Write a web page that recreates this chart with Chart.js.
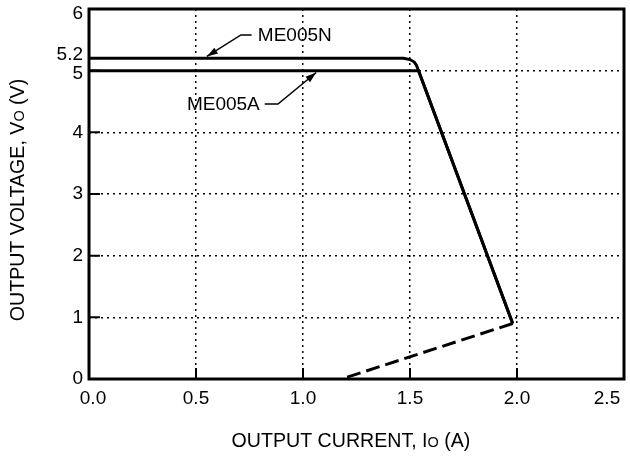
<!DOCTYPE html>
<html>
<head>
<meta charset="utf-8">
<script src="https://cdn.jsdelivr.net/npm/chart.js@4.4.1/dist/chart.umd.min.js"></script>
<style>
  body { margin: 0; background: #fff; }
</style>
</head>
<body>
<canvas id="chart" width="630" height="458"></canvas>
<script>
// Output voltage vs output current
const xTicks = [0, 0.5, 1.0, 1.5, 2.0, 2.5];
const yTicks = [0, 1, 2, 3, 4, 5, 5.2, 6];

const me005nCurrent = [0, 1.47, 1.50, 1.52, 1.53, 1.54, 1.98];
const me005nVoltage = [5.2, 5.2, 5.18, 5.14, 5.09, 5.0, 0.9];

const me005aCurrent = [0, 1.54, 1.98];
const me005aVoltage = [5.0, 5.0, 0.9];

// fold-back part (dashed)
const foldCurrent = [1.98, 1.18];
const foldVoltage = [0.9, 0];

const toPoints = (xs, ys) => xs.map((x, i) => ({ x: x, y: ys[i] }));

const FONT = 'Arial, "Liberation Sans", sans-serif';
const TICK_FONT = '19px ' + FONT;

// labels the axes place badly (crowded or past the edge) are drawn by hand
const xEdgeTicks = [0, 2.5];
const yCrowdTicks = [5, 5.2, 6];

// frame, inner ticks, axis titles and the two callouts
const decorations = {
  id: 'decorations',
  afterDraw(chart) {
    const ctx = chart.ctx;
    const area = chart.chartArea;
    const xs = chart.scales.x;
    const ys = chart.scales.y;
    ctx.save();

    // inner tick marks
    ctx.strokeStyle = '#000';
    ctx.lineWidth = 2;
    ctx.beginPath();
    xTicks.forEach(v => {
      const px = xs.getPixelForValue(v);
      ctx.moveTo(px, area.bottom);
      ctx.lineTo(px, area.bottom - 11);
    });
    [1, 2, 3, 4, 5].forEach(v => {
      const py = ys.getPixelForValue(v);
      ctx.moveTo(area.left, py);
      ctx.lineTo(area.left + 11, py);
    });
    ctx.stroke();

    // frame
    ctx.lineWidth = 3;
    ctx.strokeRect(area.left, area.top, area.right - area.left, area.bottom - area.top);

    // hand placed tick labels
    ctx.fillStyle = '#000';
    ctx.font = TICK_FONT;
    ctx.textBaseline = 'middle';
    ctx.textAlign = 'center';
    const xLabelY = area.bottom + 8 + 11.4;
    ctx.fillText(xEdgeTicks[0].toFixed(1), area.left + 4, xLabelY);
    ctx.fillText(xEdgeTicks[1].toFixed(1), area.right - 17, xLabelY);
    ctx.textAlign = 'right';
    const yNudge = [3, -4, 5];
    yCrowdTicks.forEach((v, i) => {
      ctx.fillText(String(v), area.left - 6, ys.getPixelForValue(v) + yNudge[i]);
    });

    // axis titles with the small "O" subscript
    const drawTitle = (parts, cx, cy, rotate) => {
      ctx.save();
      ctx.translate(cx, cy);
      if (rotate) ctx.rotate(-Math.PI / 2);
      ctx.textBaseline = 'alphabetic';
      ctx.textAlign = 'left';
      let total = 0;
      parts.forEach(p => { ctx.font = p[1] + 'px ' + FONT; total += ctx.measureText(p[0]).width; });
      let x = -total / 2;
      parts.forEach(p => {
        ctx.font = p[1] + 'px ' + FONT;
        ctx.fillText(p[0], x, 7);
        x += ctx.measureText(p[0]).width;
      });
      ctx.restore();
    };
    drawTitle([['OUTPUT CURRENT, I', 19.6], ['O', 14.5], [' (A)', 19.6]], 351, 440, false);
    drawTitle([['OUTPUT VOLTAGE, V', 19.6], ['O', 14.5], [' (V)', 19.6]], 17, 200, true);

    // callouts
    const arrow = (pts, label, textX, alignRight) => {
      const p = pts.map(q => [xs.getPixelForValue(q[0]), ys.getPixelForValue(q[1])]);
      ctx.lineWidth = 1.5;
      ctx.beginPath();
      ctx.moveTo(p[0][0], p[0][1]);
      for (let i = 1; i < p.length; i++) ctx.lineTo(p[i][0], p[i][1]);
      ctx.stroke();
      // head at the last point
      const a = p[p.length - 2], b = p[p.length - 1];
      const ang = Math.atan2(b[1] - a[1], b[0] - a[0]);
      const len = 11, half = 3.5;
      ctx.beginPath();
      ctx.moveTo(b[0], b[1]);
      ctx.lineTo(b[0] - len * Math.cos(ang) + half * Math.sin(ang), b[1] - len * Math.sin(ang) - half * Math.cos(ang));
      ctx.lineTo(b[0] - len * Math.cos(ang) - half * Math.sin(ang), b[1] - len * Math.sin(ang) + half * Math.cos(ang));
      ctx.closePath();
      ctx.fill();
      ctx.font = '19px ' + FONT;
      ctx.textBaseline = 'middle';
      ctx.textAlign = alignRight ? 'right' : 'left';
      ctx.fillText(label, xs.getPixelForValue(textX), p[0][1] + 1);
    };
    arrow([[0.76, 5.58], [0.71, 5.58], [0.551, 5.23]], 'ME005N', 0.789, false);
    arrow([[0.821, 4.46], [0.883, 4.46], [1.062, 4.97]], 'ME005A', 0.798, true);

    ctx.restore();
  }
};

new Chart(document.getElementById('chart'), {
  type: 'line',
  data: {
    datasets: [
      {
        label: 'ME005N',
        data: toPoints(me005nCurrent, me005nVoltage),
        borderColor: '#000',
        borderWidth: 3,
        pointRadius: 0,
        tension: 0,
        fill: false,
      },
      {
        label: 'ME005A',
        data: toPoints(me005aCurrent, me005aVoltage),
        borderColor: '#000',
        borderWidth: 3,
        pointRadius: 0,
        tension: 0,
        fill: false,
      },
      {
        label: 'Fold-back',
        data: toPoints(foldCurrent, foldVoltage),
        borderColor: '#000',
        borderWidth: 3,
        borderDash: [14, 6],
        pointRadius: 0,
        tension: 0,
        fill: false,
      },
    ],
  },
  options: {
    responsive: false,
    animation: false,
    layout: { padding: { top: 9, right: 6, left: 0, bottom: 0 } },
    plugins: {
      legend: { display: false },
      tooltip: { enabled: false },
    },
    scales: {
      x: {
        type: 'linear',
        min: 0,
        max: 2.5,
        afterBuildTicks: scale => { scale.ticks = xTicks.map(v => ({ value: v })); },
        afterFit: scale => {
          scale.height = 79;
          scale.paddingLeft = 0;
          scale.paddingRight = 0;
        },
        ticks: {
          color: '#000',
          font: { size: 19, family: FONT },
          padding: 8,
          maxRotation: 0,
          callback: v => (xEdgeTicks.includes(v) ? '' : v.toFixed(1)),
        },
        grid: {
          color: '#000',
          lineWidth: 1.5,
          drawTicks: false,
        },
        border: { display: false, dash: [2, 4] },
      },
      y: {
        type: 'linear',
        min: 0,
        max: 6,
        afterBuildTicks: scale => { scale.ticks = yTicks.map(v => ({ value: v })); },
        afterFit: scale => {
          scale.width = 89;
          scale.paddingTop = 0;
          scale.paddingBottom = 0;
        },
        ticks: {
          color: '#000',
          font: { size: 19, family: FONT },
          padding: 6,
          callback: v => (yCrowdTicks.includes(v) ? '' : String(v)),
        },
        grid: {
          color: c => (c.tick && c.tick.value === 5.2 ? 'rgba(0,0,0,0)' : '#000'),
          lineWidth: 1.5,
          drawTicks: false,
        },
        border: { display: false, dash: [2, 4] },
      },
    },
  },
  plugins: [decorations],
});
</script>
</body>
</html>
